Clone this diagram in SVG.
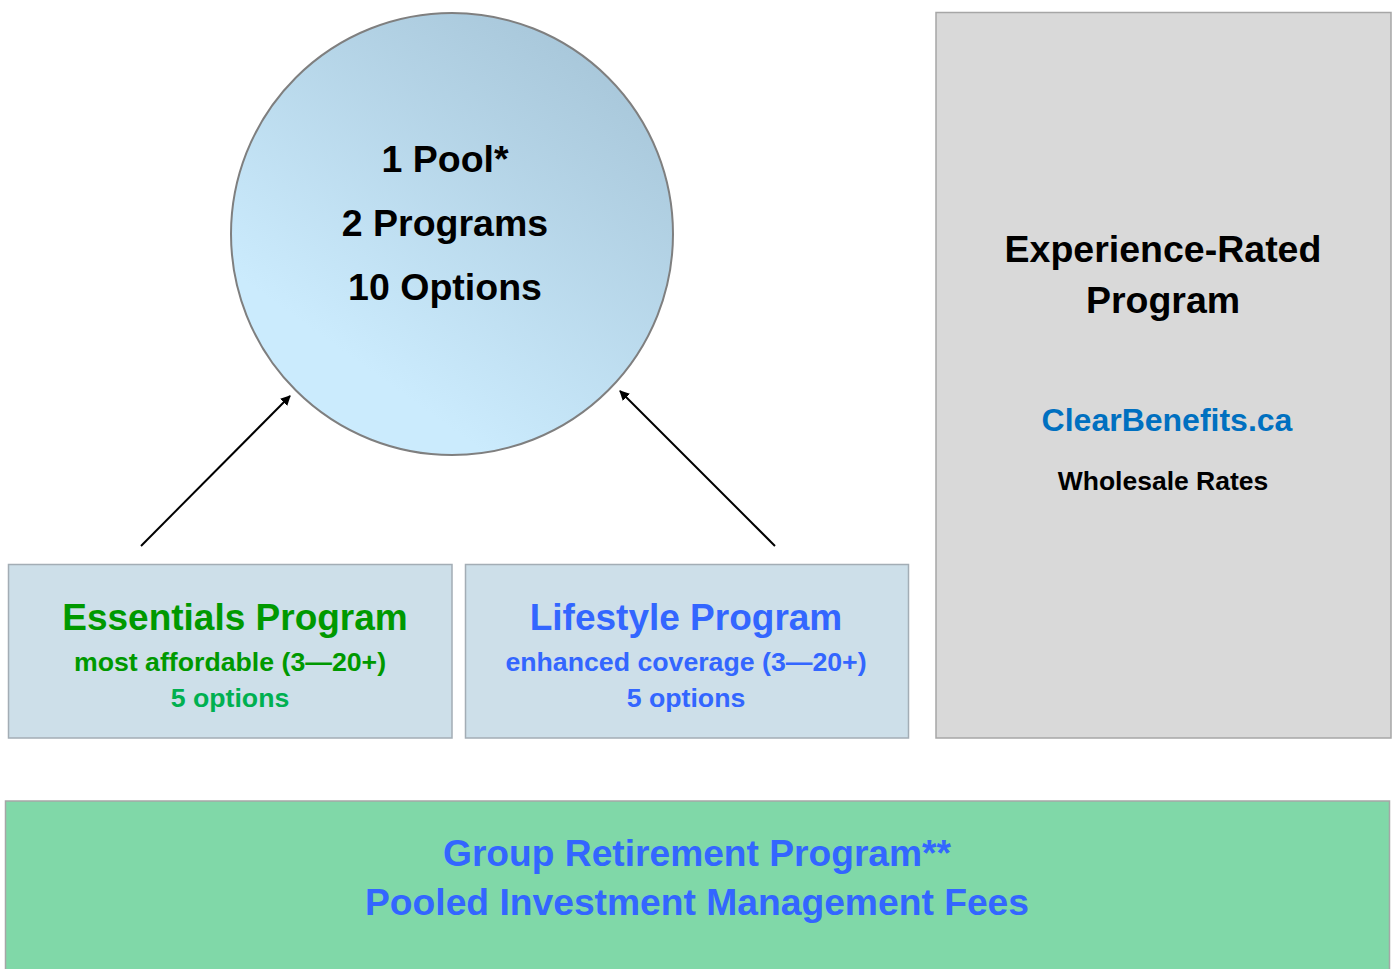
<svg xmlns="http://www.w3.org/2000/svg" width="1395" height="969" viewBox="0 0 1395 969">
<style>
text{font-family:"Liberation Sans",Arial,sans-serif;font-weight:bold;text-anchor:middle}
.big{font-size:37.5px;fill:#000}
.sub{font-size:26.7px}
.prog{fill:#cddfe9;stroke:#a3adb5;stroke-width:1.5}
.conn{stroke:#000;stroke-width:2;fill:none;marker-end:url(#ah)}
</style>
<defs>
<linearGradient id="cg" x1="0.8" y1="0.1" x2="0.3" y2="0.8">
<stop offset="0" stop-color="#a9c8db"/>
<stop offset="1" stop-color="#cbebfd"/>
</linearGradient>
<marker id="ah" viewBox="0 0 10 10" refX="9" refY="5" markerWidth="5" markerHeight="5" orient="auto">
<path d="M0,0 L10,5 L0,10 z" fill="#000"/>
</marker>
</defs>
<rect width="1395" height="969" fill="#fff"/>
<g id="pool">
<circle cx="452" cy="234" r="221" fill="url(#cg)" stroke="#7f7f7f" stroke-width="2"/>
<text x="445" y="172" class="big">1 Pool*</text>
<text x="445" y="236" class="big">2 Programs</text>
<text x="445" y="300" class="big">10 Options</text>
</g>
<g id="experience">
<rect x="936" y="12.5" width="455" height="725.5" fill="#d9d9d9" stroke="#a6a6a6" stroke-width="1.5"/>
<text x="1163" y="262" class="big">Experience-Rated</text>
<text x="1163" y="313" class="big">Program</text>
<text x="1167" y="431" font-size="32" fill="#0070c0">ClearBenefits.ca</text>
<text x="1163" y="490" font-size="26.5" fill="#000">Wholesale Rates</text>
</g>
<g id="essentials">
<rect x="8.5" y="564.5" width="443.5" height="173.5" class="prog"/>
<text x="235" y="630" font-size="37" fill="#009900">Essentials Program</text>
<text x="230" y="671" class="sub" fill="#009900">most affordable (3—20+)</text>
<text x="230" y="707" class="sub" fill="#00b050">5 options</text>
</g>
<g id="lifestyle">
<rect x="465.5" y="564.5" width="443" height="173.5" class="prog"/>
<text x="686" y="630" font-size="37" fill="#3366ff">Lifestyle Program</text>
<text x="686" y="671" class="sub" fill="#3366ff">enhanced coverage (3—20+)</text>
<text x="686" y="707" class="sub" fill="#3366ff">5 options</text>
</g>
<g id="retirement">
<rect x="5.5" y="801" width="1384" height="175" fill="#80d8a8" stroke="#a6a6a6" stroke-width="1.5"/>
<text x="697" y="866" font-size="37" fill="#3366ff" textLength="508" lengthAdjust="spacingAndGlyphs">Group Retirement Program**</text>
<text x="697" y="915" font-size="37" fill="#3366ff" textLength="664" lengthAdjust="spacingAndGlyphs">Pooled Investment Management Fees</text>
</g>
<g id="connectors">
<line x1="141" y1="546" x2="290" y2="396" class="conn"/>
<line x1="775" y1="546" x2="620" y2="391" class="conn"/>
</g>
</svg>
